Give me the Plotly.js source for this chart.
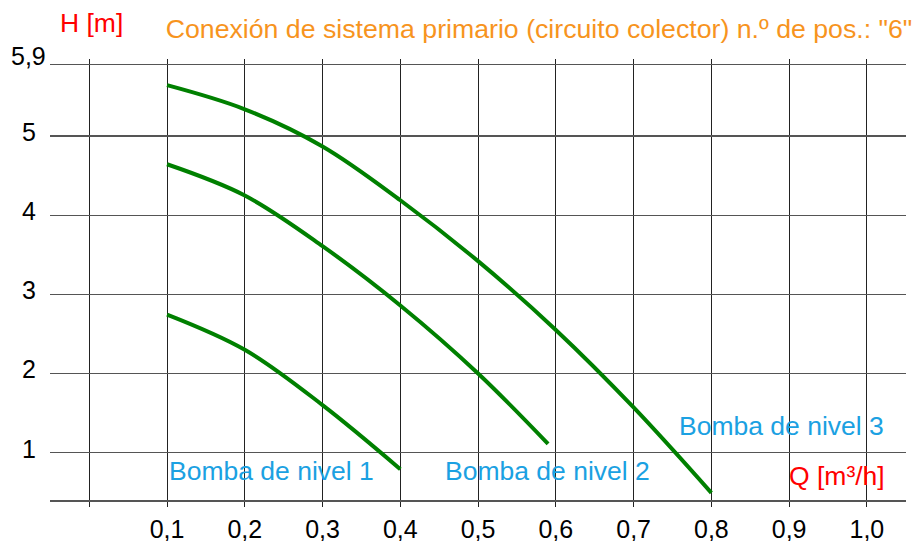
<!DOCTYPE html>
<html>
<head>
<meta charset="utf-8">
<script src="https://cdn.plot.ly/plotly-3.0.1.min.js"></script>
<style>
html,body{margin:0;padding:0;background:#fff;}
#chart{width:915px;height:541px;}
</style>
</head>
<body>
<div id="chart"></div>
<script>
// ---- data ----
const q1 = [0.1, 0.2, 0.3, 0.4];
const h1 = [2.745, 2.30, 1.60, 0.79];

const q2 = [0.1, 0.2, 0.3, 0.4, 0.5, 0.59];
const h2 = [4.645, 4.25, 3.61, 2.86, 2.00, 1.11];

const q3 = [0.1, 0.2, 0.3, 0.4, 0.5, 0.6, 0.7, 0.8];
const h3 = [5.645, 5.34, 4.87, 4.19, 3.42, 2.55, 1.57, 0.49];

const seriesNames = ["Bomba de nivel 1", "Bomba de nivel 2", "Bomba de nivel 3"];

const xTickVals = [0, 0.1, 0.2, 0.3, 0.4, 0.5, 0.6, 0.7, 0.8, 0.9, 1.0];
const xTickText = ["", "0,1", "0,2", "0,3", "0,4", "0,5", "0,6", "0,7", "0,8", "0,9", "1,0"];
const yTickVals = [1, 2, 3, 4, 5, 5.9];
const yTickText = ["1", "2", "3", "4", "5", "5,9"];

const titleText = 'Conexión de sistema primario (circuito colector) n.º de pos.: "6"';
const xLabel = "Q [m³/h]";
const yLabel = "H [m]";

// ---- styles ----
const FONT = "Liberation Sans, Arial, sans-serif";
const GREEN = "#008000";
const BLUE = "#1BA1E2";
const RED = "#FF0000";
const ORANGE = "#F7941E";

const W = 915, H = 541;
const M = {l: 50, r: 9, t: 65, b: 41};
const XR = [-0.0505, 1.0503];
const YR = [0.4, 5.9];
const plotW = W - M.l - M.r;

function lineTrace(x, y, name) {
  return {x: x, y: y, name: name, type: "scatter", mode: "lines",
          line: {color: GREEN, width: 4, shape: "spline", smoothing: 1},
          hoverinfo: "skip", showlegend: false};
}
const data = [lineTrace(q1, h1, seriesNames[0]),
              lineTrace(q2, h2, seriesNames[1]),
              lineTrace(q3, h3, seriesNames[2])];

// y tick labels as centered annotations
const px2paperX = p => (p - M.l) / plotW;
const annotations = yTickVals.map((v, i) => ({
  text: yTickText[i], xref: "paper", yref: "y", x: px2paperX(28.5), y: v,
  xanchor: "center", yanchor: "middle", yshift: (i === yTickVals.length - 1 ? 9 : 4),
  showarrow: false, font: {family: FONT, size: 25, color: "#000"}
}));

// curve labels
const labelPos = [
  {x: 0.1, y: 0.767},
  {x: 0.455, y: 0.767},
  {x: 0.7557, y: 1.336}
];
seriesNames.forEach((n, i) => annotations.push({
  text: n, xref: "x", yref: "y", x: labelPos[i].x, y: labelPos[i].y,
  xanchor: "left", yanchor: "middle", showarrow: false,
  font: {family: FONT, size: 26.5, color: BLUE}
}));
// axis name labels
annotations.push({text: xLabel, xref: "x", yref: "y", x: 1.0255, y: 0.70,
  xanchor: "right", yanchor: "middle", showarrow: false,
  font: {family: FONT, size: 26.5, color: RED}});
annotations.push({text: yLabel, xref: "paper", yref: "paper", x: px2paperX(91),
  y: 1, yshift: 42, xanchor: "center", yanchor: "middle", showarrow: false,
  font: {family: FONT, size: 26.5, color: RED}});

const layout = {
  width: W, height: H,
  margin: M,
  paper_bgcolor: "#fff", plot_bgcolor: "#fff",
  showlegend: false,
  title: {text: titleText, xref: "paper", x: px2paperX(539), xanchor: "center",
          yref: "container", y: 1 - 29 / H, yanchor: "middle",
          font: {family: FONT, size: 26.7, color: ORANGE}},
  xaxis: {range: XR, tickmode: "array", tickvals: xTickVals, ticktext: xTickText,
          showgrid: true, gridcolor: "#222", gridwidth: 1,
          zeroline: false, showline: true, linecolor: "#555", linewidth: 1.5,
          mirror: "ticks", ticks: "outside", ticklen: 5, tickwidth: 1, tickcolor: "#222",
          tickfont: {family: FONT, size: 25, color: "#000"}, ticklabelstandoff: 1,
          fixedrange: true},
  yaxis: {range: YR, tickmode: "array", tickvals: yTickVals, showticklabels: false,
          showgrid: true, gridcolor: "#555", gridwidth: 1.5,
          zeroline: false, showline: false, ticks: "", fixedrange: true},
  annotations: annotations
};

Plotly.newPlot("chart", data, layout, {displayModeBar: false, staticPlot: true});
</script>
</body>
</html>
